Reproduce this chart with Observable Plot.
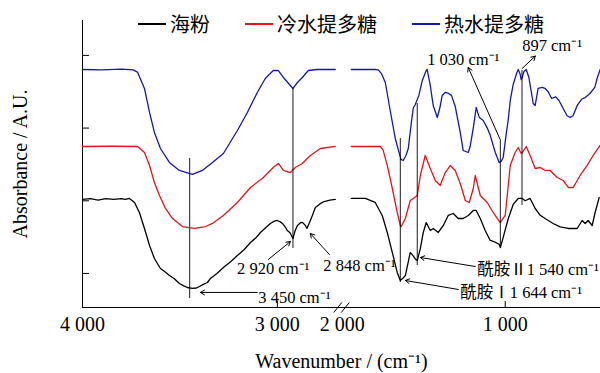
<!DOCTYPE html>
<html><head><meta charset="utf-8">
<script src="https://cdn.jsdelivr.net/npm/d3@7"></script>
<script src="https://cdn.jsdelivr.net/npm/@observablehq/plot@0.6"></script>
<style>
body{margin:0;background:#fff;}
#wrap{position:relative;width:600px;height:373px;overflow:hidden;}
#legend{position:absolute;top:12px;left:138px;display:flex;gap:35px;font-family:"Noto Sans CJK SC",sans-serif;font-size:20px;line-height:24px;color:#000;}
.item{display:flex;align-items:center;}
.sw{display:inline-block;width:28px;height:2px;margin-right:4px;}
</style></head><body>
<div id="wrap"></div>
<script>
// ---- series ----
const seriesNames = ["海粉", "冷水提多糖", "热水提多糖"];
const seriesColors = ["#000000", "#e3141b", "#1515b0"];

// 海粉 (black)
const haifenWn = [4000,3960,3920,3880,3840,3800,3780,3759,3733,3708,3682,3656,3631,3600,3575,3554,3530,3503,3480,3462,3436,3415,3400,3380,3359,3344,3310,3277,3240,3205,3170,3138,3110,3087,3060,3036,3015,3000,2985,2974,2960,2949,2935,2920,2910,2897,2880,2870,2856,2848,2835,2820,2805,2780,2760,2730,2703,
  1945,1859,1798,1755,1724,1693,1663,1644,1630,1613,1583,1571,1552,1540,1521,1503,1485,1460,1442,1411,1380,1350,1319,1288,1258,1227,1196,1178,1153,1123,1092,1061,1037,1030,1012,982,951,920,896,877,847,816,785,755,706,663,613,558,528,509,491,466,448,423];
const haifenAbs = [2.018,2.03,2.01,2.03,2.02,2.03,2.02,2.032,1.977,1.839,1.619,1.385,1.206,1.069,1.02,0.972,0.93,0.862,0.83,0.807,0.794,0.80,0.821,0.85,0.876,0.93,1.00,1.082,1.16,1.247,1.33,1.426,1.49,1.564,1.63,1.688,1.72,1.729,1.71,1.688,1.64,1.591,1.56,1.481,1.58,1.66,1.701,1.70,1.66,1.619,1.70,1.80,1.908,1.96,1.99,2.01,2.018,
  2.032,2.032,1.977,1.798,1.564,1.288,1.014,0.904,0.93,0.972,1.288,1.26,1.20,1.178,1.343,1.564,1.701,1.591,1.619,1.564,1.66,1.798,1.825,1.756,1.756,1.798,1.867,1.867,1.756,1.591,1.454,1.43,1.40,1.357,1.50,1.75,1.95,2.032,2.032,2.00,2.032,1.894,1.80,1.756,1.688,1.64,1.619,1.619,1.729,1.688,1.729,1.66,1.839,2.045];

// 冷水提多糖 (red)
const coldWn = [4000,3850,3718,3682,3656,3631,3605,3574,3538,3487,3426,3369,3333,3277,3205,3138,3072,3021,2995,2969,2933,2908,2872,2831,2779,2703,
  1945,1800,1767,1750,1724,1693,1663,1644,1638,1613,1583,1564,1540,1521,1491,1460,1429,1399,1368,1337,1307,1276,1245,1221,1196,1184,1153,1110,1074,1031,1000,969,939,920,902,896,871,847,816,785,755,724,681,644,613,583,540,497,460,417];
const coldAbs = [2.747,2.75,2.747,2.664,2.486,2.252,2.073,1.894,1.756,1.646,1.619,1.646,1.688,1.798,1.977,2.183,2.32,2.458,2.513,2.417,2.389,2.458,2.513,2.623,2.719,2.747,
  2.747,2.747,2.747,2.70,2.486,2.169,1.839,1.66,1.646,1.756,2.004,2.032,2.073,2.348,2.623,2.444,2.279,2.21,2.389,2.486,2.417,2.238,2.004,1.977,2.169,2.348,2.073,1.977,1.839,1.701,1.798,2.486,2.664,2.733,2.65,2.66,2.747,2.623,2.444,2.458,2.417,2.417,2.32,2.279,2.183,2.183,2.348,2.486,2.623,2.761];

// 热水提多糖 (blue)
const hotWn = [4000,3900,3800,3740,3718,3682,3656,3631,3600,3554,3503,3436,3385,3333,3277,3205,3154,3103,3062,3021,2995,2969,2920,2897,2872,2841,2795,2703,
  1945,1800,1779,1760,1736,1706,1675,1656,1640,1626,1610,1595,1575,1564,1552,1530,1509,1485,1479,1460,1442,1417,1399,1387,1368,1350,1330,1307,1276,1258,1227,1215,1196,1178,1160,1135,1110,1092,1061,1037,1025,1012,995,982,969,951,930,920,908,902,895,885,871,855,840,828,816,798,773,755,736,715,690,670,644,620,601,583,558,530,509,480,450,436,417];
const hotAbs = [3.806,3.80,3.81,3.80,3.77,3.545,3.215,2.94,2.719,2.527,2.417,2.362,2.417,2.527,2.65,2.967,3.215,3.49,3.682,3.792,3.792,3.696,3.545,3.627,3.696,3.792,3.806,3.806,
  3.806,3.806,3.80,3.75,3.627,3.242,2.857,2.70,2.57,2.554,2.62,2.719,3.10,3.28,3.324,3.45,3.655,3.792,3.806,3.586,3.311,3.146,3.30,3.449,3.49,3.48,3.45,3.30,2.94,2.692,2.664,2.75,3.0,3.283,3.15,3.104,3.0,2.9,2.664,2.527,2.54,2.60,2.90,3.104,3.38,3.60,3.75,3.806,3.74,3.668,3.70,3.78,3.806,3.70,3.50,3.338,3.311,3.545,3.559,3.545,3.50,3.407,3.43,3.38,3.269,3.17,3.146,3.173,3.311,3.40,3.42,3.476,3.56,3.682,3.806];

const seriesWn = [haifenWn, coldWn, hotWn];
const seriesAbs = [haifenAbs, coldAbs, hotAbs];

// ---- axes ----
const xTickWn = [4000, 3000, 2000, 1000];
const xTickLabels = ["4 000", "3 000", "2 000", "1 000"];
const yTicks = [1, 2, 3, 4];
const yDomain = [0.532, 4.48];
const xEndWn = 415;
const breakWn = [2690, 1982];

// ---- peak markers ----
const markerWn = [3450, 2920, 1644, 1540, 1030, 897];
const markerLow = [0.656, 1.343, 0.876, 1.109, 1.385, 1.935];
const markerHigh = [2.58, 3.545, 2.857, 3.338, 2.83, 3.792];

// ---- annotations ----
const noteText = ["3 450 cm⁻¹", "2 920 cm⁻¹", "2 848 cm⁻¹", "酰胺Ⅱ1 540 cm⁻¹", "酰胺Ⅰ1 644 cm⁻¹", "1 030 cm⁻¹", "897 cm⁻¹"];
const noteWn = [3098, 3021, 2764, 1172, 1276, 1479, 896];
const noteAbs = [0.669, 1.069, 1.110, 1.055, 0.739, 3.944, 4.135];
const noteAnchor = ["start", "middle", "start", "start", "start", "start", "start"];
const arrowFromWn = [3103, 3046, 2733, 1184, 1288, 1031, 896];
const arrowFromAbs = [0.739, 1.193, 1.261, 1.096, 0.780, 2.843, 3.820];
const arrowToWn = [3395, 2933, 2831, 1521, 1613, 1227, 815];
const arrowToAbs = [0.739, 1.440, 1.550, 1.220, 0.904, 3.834, 3.990];

// broken axis: 4000–2700 and 2000–400 mapped to one continuous position
const pos = w => w > 2350 ? (4000 - w) * 0.195 : 260 + (2000 - w) * 0.163;

const rows = [];
seriesNames.forEach((name, s) => {
  seriesWn[s].forEach((w, i) => rows.push({series: name, seg: w > 2350 ? "L" : "R", w, v: seriesAbs[s][i]}));
});
const markers = markerWn.map((w, i) => ({w, lo: markerLow[i], hi: markerHigh[i]}));
const notes = noteText.map((t, i) => ({t, w: noteWn[i], v: noteAbs[i], a: noteAnchor[i]}));
const arrows = arrowFromWn.map((w, i) => ({w1: w, v1: arrowFromAbs[i], w2: arrowToWn[i], v2: arrowToAbs[i]}));
const tickPos = xTickWn.map(pos);
const tickLabel = new Map(tickPos.map((p, i) => [p, xTickLabels[i]]));
const dv = (yDomain[1] - yDomain[0]) / 287 * 5;
const breaks = breakWn.map(w => ({w}));

const lineMarks = seriesNames.map((name, s) =>
  Plot.line(rows.filter(r => r.series === name), {x: d => pos(d.w), y: "v", z: "seg", stroke: seriesColors[s], strokeWidth: 1.3})
);
const noteMarks = ["start", "middle"].map(a =>
  Plot.text(notes.filter(n => n.a === a), {x: d => pos(d.w), y: "v", text: "t", textAnchor: a, fontSize: 16.5, fill: "#000"})
);

const chart = Plot.plot({
  width: 600, height: 373,
  marginLeft: 82, marginRight: 0, marginTop: 20, marginBottom: 66,
  style: {fontFamily: '"Liberation Serif", "Noto Sans CJK SC", serif', fontSize: "20px", color: "#000", background: "#fff", overflow: "visible"},
  x: {type: "linear", domain: [pos(4000), pos(xEndWn)]},
  y: {domain: yDomain},
  marks: [
    Plot.ruleX([4000], {x: pos, stroke: "#000", strokeWidth: 1}),
    Plot.ruleY([yDomain[0]], {stroke: "#000", strokeWidth: 1}),
    Plot.axisY({ticks: yTicks, tickSize: -7, tickFormat: () => "", label: "Absorbance / A.U.", labelAnchor: "center", labelOffset: 70, labelArrow: "none"}),
    Plot.axisX({ticks: tickPos.filter((p, i) => xTickWn[i] !== 2000), tickSize: -6, tickFormat: () => "", label: null}),
    Plot.axisX({ticks: tickPos, tickSize: 0, tickPadding: 9, tickFormat: d => tickLabel.get(d), label: "Wavenumber / (cm⁻¹)", labelAnchor: "center", labelOffset: 60, labelArrow: "none"}),
    Plot.link(breaks, {x1: d => pos(d.w) - 4, x2: d => pos(d.w) + 4, y1: yDomain[0] - dv, y2: yDomain[0] + dv, stroke: "#000", strokeWidth: 1}),
    ...lineMarks,
    Plot.ruleX(markers, {x: d => pos(d.w), y1: "lo", y2: "hi", stroke: "#000", strokeWidth: 0.9}),
    Plot.arrow(arrows, {x1: d => pos(d.w1), y1: "v1", x2: d => pos(d.w2), y2: "v2", stroke: "#000", strokeWidth: 1, headLength: 7}),
    ...noteMarks
  ]
});
const wrap = document.getElementById("wrap");
wrap.appendChild(chart);

const legend = document.createElement("div");
legend.id = "legend";
seriesNames.forEach((name, s) => {
  const it = document.createElement("div");
  it.className = "item";
  const sw = document.createElement("span");
  sw.className = "sw";
  sw.style.background = seriesColors[s];
  it.appendChild(sw);
  it.appendChild(document.createTextNode(name));
  legend.appendChild(it);
});
wrap.appendChild(legend);
</script>
</body></html>
